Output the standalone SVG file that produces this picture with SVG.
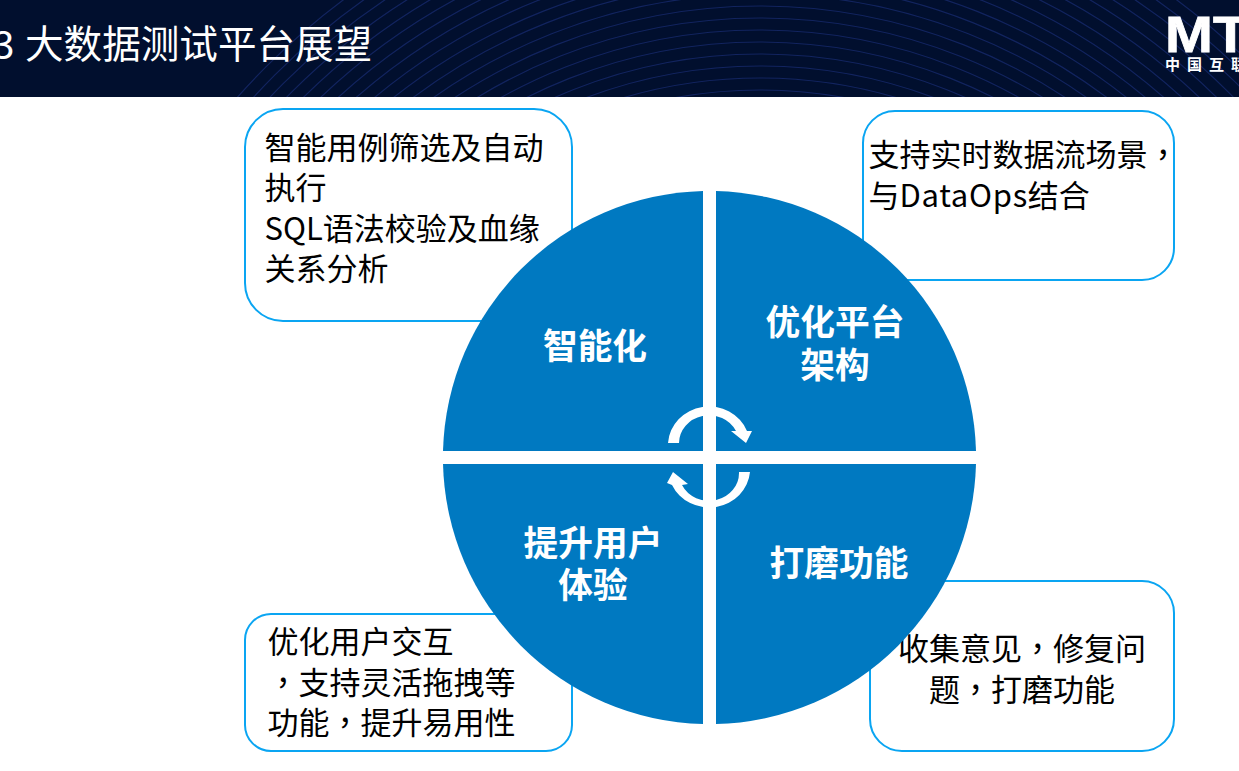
<svg xmlns="http://www.w3.org/2000/svg" width="1239" height="771" viewBox="0 0 1239 771">
<style>
text{font-family:"Noto Sans CJK SC","Noto Sans",sans-serif}
.box{fill:#fff;stroke:#0aa5f2;stroke-width:2}
.t{font-size:31px;fill:#000}
.c{font-family:"Noto Sans CJK TC","Noto Sans",sans-serif}
.q{fill:#0079c1}
.l{font-size:34.7px;font-weight:700;fill:#fff}
.w{fill:#fff}
.h circle{fill:none;stroke:#16296b;stroke-width:1.2;opacity:.8}
</style>
<defs><clipPath id="hc"><rect width="1239" height="97"/></clipPath></defs>
<g id="header">
<rect width="1239" height="97" fill="#010f2e"/>
<g clip-path="url(#hc)"><g class="h">
<circle cx="760" cy="560" r="470"/><circle cx="760" cy="560" r="482"/><circle cx="760" cy="560" r="494"/><circle cx="760" cy="560" r="506"/><circle cx="760" cy="560" r="518"/><circle cx="760" cy="560" r="530"/><circle cx="760" cy="560" r="542"/><circle cx="760" cy="560" r="554"/><circle cx="760" cy="560" r="566"/><circle cx="760" cy="560" r="578"/><circle cx="760" cy="560" r="590"/><circle cx="760" cy="560" r="602"/><circle cx="760" cy="560" r="614"/><circle cx="760" cy="560" r="626"/><circle cx="760" cy="560" r="638"/><circle cx="760" cy="560" r="650"/><circle cx="760" cy="560" r="662"/><circle cx="760" cy="560" r="674"/><circle cx="760" cy="560" r="686"/><circle cx="760" cy="560" r="698"/>
</g></g>
<text x="-7" y="59" font-size="38.6" fill="#fff">3</text>
<text x="25" y="58" font-size="38.6" fill="#fff">大数据测试平台展望</text>
</g>
<g id="logo">
<text transform="translate(1165 52) scale(1.15 1)" font-size="50" font-weight="700" fill="#fff" stroke="#fff" stroke-width=".8" style="font-family:'Liberation Sans',sans-serif">MT</text>
<text x="1165" y="70" font-size="15" font-weight="700" letter-spacing="7" fill="#fff">中国互联</text>
</g>
<g id="box-1"><rect class="box" x="245" y="109" width="327" height="212" rx="38"/>
<text class="t" x="264.500" y="159">智能用例筛选及自动</text>
<text class="t" x="264.500" y="199">执行</text>
<text class="t" x="264.500" y="240">SQL语法校验及血缘</text>
<text class="t" x="264.500" y="280">关系分析</text></g>
<g id="box-2"><rect class="box" x="863" y="111" width="311" height="169" rx="32"/>
<text class="t" x="868.500" y="166">支持实时数据流场景<tspan class="c">，</tspan></text>
<text class="t" x="868.500" y="207">与<tspan letter-spacing=".7">DataOps</tspan>结合</text></g>
<g id="box-3"><rect class="box" x="245" y="614" width="327" height="137" rx="26"/>
<text class="t" x="267.500" y="653">优化用户交互</text>
<text class="t" x="267.500" y="694"><tspan class="c">，</tspan>支持灵活拖拽等</text>
<text class="t" x="267.500" y="734">功能<tspan class="c">，</tspan>提升易用性</text></g>
<g id="box-4"><rect class="box" x="870" y="581" width="304" height="170" rx="32"/>
<text class="t" x="1022" y="660" text-anchor="middle">收集意见<tspan class="c">，</tspan>修复问</text>
<text class="t" x="1022" y="701" text-anchor="middle">题<tspan class="c">，</tspan>打磨功能</text></g>
<g id="quadrant-1"><path class="q" d="M703 191A267 267 0 0 0 443 451H703Z"/><text class="l" x="595" y="359" text-anchor="middle">智能化</text></g>
<g id="quadrant-2"><path class="q" d="M716 191A267 267 0 0 1 976 451H716Z"/><text class="l" x="835" y="335" text-anchor="middle">优化平台</text><text class="l" x="835" y="378" text-anchor="middle">架构</text></g>
<g id="quadrant-3"><path class="q" d="M703 724A267 267 0 0 1 443 464H703Z"/><text class="l" x="593" y="556" text-anchor="middle">提升用户</text><text class="l" x="593" y="598" text-anchor="middle">体验</text></g>
<g id="quadrant-4"><path class="q" d="M716 724A267 267 0 0 0 976 464H716Z"/><text class="l" x="839" y="576" text-anchor="middle">打磨功能</text></g>
<g id="connectors">
<path class="w" d="M668 443A41 39 0 0 1 747 431L752 431L746 443L731 431L736 431A30 28 0 0 0 679 443Z"/>
<path class="w" d="M750 472A41 39 0 0 1 672 485L667 483L673 472L688 484L682 485A30 28 0 0 0 739 472Z"/>
</g>
</svg>
